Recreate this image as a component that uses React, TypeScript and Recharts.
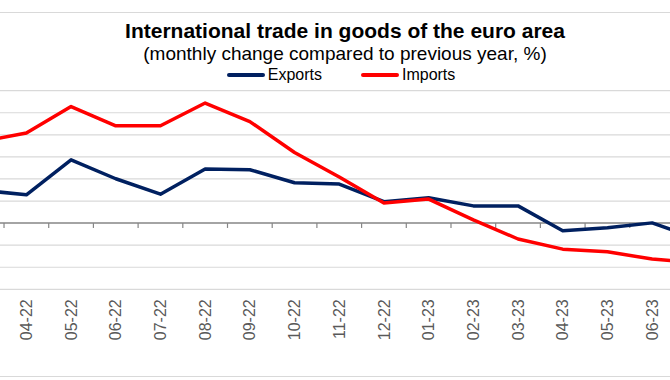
import React from "react";
import {
  LineChart,
  Line,
  XAxis,
  YAxis,
  ReferenceLine,
  Legend,
} from "recharts";

// months, March 2022 .. July 2023 (first and last fall just outside the visible frame)
const months = [
  "03-22", "04-22", "05-22", "06-22", "07-22", "08-22", "09-22", "10-22", "11-22",
  "12-22", "01-23", "02-23", "03-23", "04-23", "05-23", "06-23", "07-23",
];
const exportsPct = [14.9, 12.8, 28.7, 20.1, 13.1, 24.5, 24.2, 18.3, 17.7, 9.7, 11.5, 7.8, 7.8, -3.5, -2.1, 0.1, -7.0];
const importsPct = [37.0, 40.8, 52.8, 44.1, 44.1, 54.4, 46.0, 32.0, 20.9, 9.1, 10.9, 1.5, -7.2, -11.8, -13.0, -16.3, -17.9];
const yTicks = [-30, -20, -10, 0, 10, 20, 30, 40, 50, 60];
const labelTicks = [1, 2, 3, 4, 5, 6, 7, 8, 9, 10, 11, 12, 13, 14, 15];

const data = months.map((m, i) => ({
  idx: i,
  month: m,
  exports: exportsPct[i],
  imports: importsPct[i],
}));

// tick marks sit between categories, Excel style
const tickMarks = months.slice(1).map((_, i) => i + 0.5);

const FONT = "'Liberation Sans', Arial, sans-serif";

function MonthTick(props: any) {
  const { x, y, payload } = props;
  return (
    <text
      x={x}
      y={y}
      transform={`rotate(-90, ${x}, ${y})`}
      textAnchor="end"
      dy="0.35em"
      fill="#595959"
      fontSize={16}
      fontFamily={FONT}
    >
      {months[payload.value]}
    </text>
  );
}

function LegendContent(props: any) {
  const items = props.payload || [];
  return (
    <div style={{ display: "flex", justifyContent: "center", fontFamily: FONT, fontSize: 16, color: "#000" }}>
      {items.map((it: any, i: number) => (
        <div
          key={it.value}
          style={{ display: "flex", alignItems: "center", marginRight: i === 0 ? 39 : 0 }}
        >
          <span style={{ width: 38, height: 4, background: it.color, marginRight: 3, borderRadius: 2 }} />
          <span>{it.value}</span>
        </div>
      ))}
    </div>
  );
}

export default function App() {
  return (
    <div
      style={{
        position: "absolute",
        left: 0,
        top: 0,
        width: 670,
        height: 380,
        background: "#fff",
        overflow: "hidden",
        fontFamily: FONT,
      }}
    >
      <div style={{ position: "absolute", left: 0, top: 12, width: 670, height: 1, background: "#d9d9d9" }} />
      <div style={{ position: "absolute", left: 0, top: 376, width: 670, height: 1, background: "#d9d9d9" }} />
      <div
        style={{
          position: "absolute",
          left: 0,
          top: 20,
          width: 690,
          textAlign: "center",
          fontSize: 21,
          lineHeight: "21px",
          fontWeight: "bold",
          color: "#000",
        }}
      >
        International trade in goods of the euro area
      </div>
      <div
        style={{
          position: "absolute",
          left: 0,
          top: 44,
          width: 690,
          textAlign: "center",
          fontSize: 19,
          lineHeight: "19px",
          color: "#000",
        }}
      >
        (monthly change compared to previous year, %)
      </div>
      <LineChart
        width={670}
        height={380}
        data={data}
        margin={{ top: 90.7, right: 0, bottom: 30.7, left: 0 }}
      >
        <XAxis
          type="number"
          dataKey="idx"
          domain={[0.41, 15.4]}
          allowDataOverflow
          ticks={labelTicks}
          interval={0}
          axisLine={false}
          tickLine={false}
          tickSize={0}
          tickMargin={10}
          height={60}
          tick={<MonthTick />}
        />
        <YAxis hide type="number" domain={[-30, 60]} ticks={yTicks} interval={0} allowDataOverflow />
        {/* horizontal gridlines */}
        {yTicks
          .filter((t) => t !== 0)
          .map((t) => (
            <ReferenceLine key={`g${t}`} y={t} stroke="#d9d9d9" strokeWidth={1.2} />
          ))}
        <ReferenceLine y={0} stroke="#868686" strokeWidth={1.5} />
        {tickMarks.map((t) => (
          <ReferenceLine
            key={t}
            segment={[
              { x: t, y: 0 },
              { x: t, y: -2.2 },
            ]}
            stroke="#868686"
            strokeWidth={1.2}
          />
        ))}
        <Legend
          verticalAlign="middle"
          align="center"
          content={<LegendContent />}
          wrapperStyle={{ position: "absolute", top: 66, left: 0, width: 682, height: 20 }}
        />
        <Line
          type="linear"
          dataKey="exports"
          name="Exports"
          stroke="#002060"
          strokeWidth={3.5}
          strokeLinejoin="round"
          dot={false}
          activeDot={false}
          isAnimationActive={false}
        />
        <Line
          type="linear"
          dataKey="imports"
          name="Imports"
          stroke="#ff0000"
          strokeWidth={3.5}
          strokeLinejoin="round"
          dot={false}
          activeDot={false}
          isAnimationActive={false}
        />
      </LineChart>
    </div>
  );
}
